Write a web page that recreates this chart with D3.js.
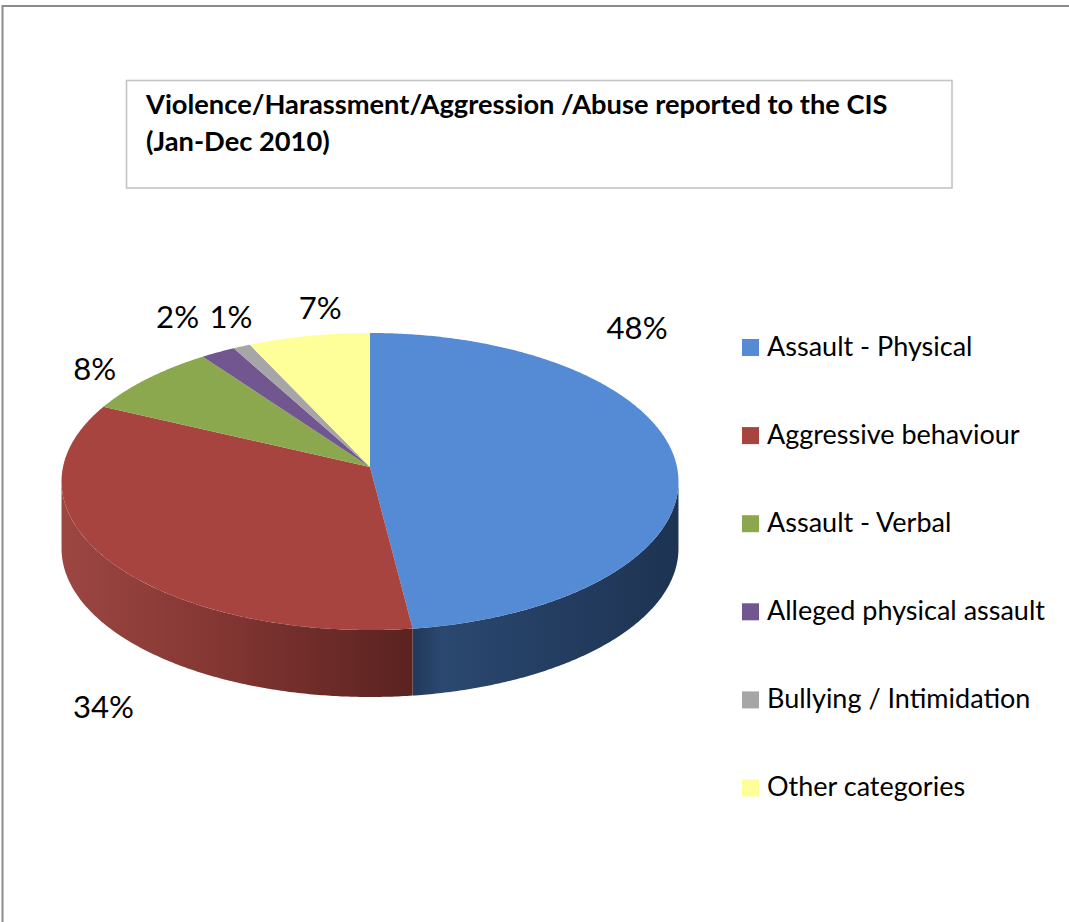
<!DOCTYPE html>
<html>
<head>
<meta charset="utf-8">
<script src="https://cdn.jsdelivr.net/npm/d3@7"></script>
<style>
  html, body { margin: 0; padding: 0; background: #ffffff; }
  svg { display: block; }
  text { font-family: Lato, "Open Sans", "Liberation Sans", sans-serif; fill: #000; }
</style>
</head>
<body>
<svg id="chart" width="1069" height="922"></svg>
<script>
// ---------- data ----------
const categories = ["Assault - Physical", "Aggressive behaviour", "Assault - Verbal",
                    "Alleged physical assault", "Bullying / Intimidation", "Other categories"];
const values = [48, 34, 8, 2, 1, 7];
const percentLabels = ["48%", "34%", "8%", "2%", "1%", "7%"];
const titleLines = ["Violence/Harassment/Aggression /Abuse reported to the CIS", "(Jan-Dec 2010)"];

// ---------- styles ----------
const topColors = ["#548bd4", "#a8443f", "#8ba84f", "#71568f", "#a6a6a6", "#ffff99"];

const svg = d3.select("#chart");
const W = 1069, H = 922;

// outer frame
svg.append("rect").attr("x", 2.5).attr("y", 6).attr("width", W + 20).attr("height", H + 20)
  .attr("fill", "#fff").attr("stroke", "#8c8c8c").attr("stroke-width", 2);

// title box
svg.append("rect").attr("x", 126.5).attr("y", 80.5).attr("width", 825.5).attr("height", 107.5)
  .attr("fill", "#fff").attr("stroke", "#c4c4c4").attr("stroke-width", 1.6);

function fitSize(sel, target) {
  sel.attr("font-size", 100);
  const w = sel.node().getComputedTextLength();
  return 100 * target / w;
}

const t1 = svg.append("text").attr("x", 146).attr("y", 114).attr("font-weight", "bold").text(titleLines[0]);
const titleSize = fitSize(t1, 742);
t1.attr("font-size", titleSize);
svg.append("text").attr("x", 146).attr("y", 150.5).attr("font-weight", "bold")
  .attr("font-size", titleSize).text(titleLines[1]);

// ---------- perspective pie ----------
const cx = 370, cy = 467;        // projected pie centre
const ax = 307, by = 147.1;      // horizontal / vertical radii
const k = -0.0976;               // perspective factor
const depth = 67;

function proj(theta, r = 1) {
  const u = r * Math.sin(theta), v = -r * Math.cos(theta);
  const d = 1 + k * v;
  return [cx + ax * u / d, cy + by * v / d];
}
function rim(a0, a1, r = 1, dy = 0) {
  const n = Math.max(2, Math.ceil(Math.abs(a1 - a0) / (Math.PI / 360)));
  const pts = [];
  for (let i = 0; i <= n; i++) {
    const p = proj(a0 + (a1 - a0) * i / n, r);
    pts.push([p[0], p[1] + dy]);
  }
  return pts;
}

const pie = d3.pie().sort(null).value(d => d)(values);
const line = d3.line();

const thR = Math.acos(k), thL = 2 * Math.PI - thR;   // silhouette angles

// gradients for sides
const defs = svg.append("defs");
const sideGrads = [
  { id: "g0", x1: 415, x2: 679, stops: [[0, "#223a5c"], [0.1, "#2b4870"], [0.5, "#243e62"], [1, "#1e3352"]] },
  { id: "g1", x1: 62, x2: 415, stops: [[0, "#9c4642"], [0.4, "#863834"], [1, "#5a2220"]] }
];
sideGrads.forEach(g => {
  const lg = defs.append("linearGradient").attr("id", g.id).attr("gradientUnits", "userSpaceOnUse")
    .attr("x1", g.x1).attr("x2", g.x2).attr("y1", 0).attr("y2", 0);
  g.stops.forEach(s => lg.append("stop").attr("offset", s[0]).attr("stop-color", s[1]));
});

// sides (front half only)
pie.forEach((s, i) => {
  const a0 = Math.max(s.startAngle, thR), a1 = Math.min(s.endAngle, thL);
  if (a1 <= a0) return;
  const top = rim(a0, a1), bot = rim(a1, a0, 1, depth);
  svg.append("path").attr("d", line(top.concat(bot)) + "Z")
    .attr("fill", i < 2 ? `url(#g${i})` : d3.color(topColors[i]).darker(1.2));
});

// tops
pie.forEach((s, i) => {
  const pts = [[cx, cy]].concat(rim(s.startAngle, s.endAngle));
  svg.append("path").attr("d", line(pts) + "Z").attr("fill", topColors[i]);
});

// ---------- data labels ----------
const labelNudge = [[-113, -117], [68, 135], [-1, 22], [-6, 2], [18, 9], [25, 12]];
const pctSize = (() => {
  const t = svg.append("text").text(percentLabels[0]);
  const s = fitSize(t, 61); t.remove(); return s;
})();
pie.forEach((s, i) => {
  const mid = (s.startAngle + s.endAngle) / 2;
  const p = proj(mid, 1.25);
  svg.append("text").attr("x", p[0] + labelNudge[i][0]).attr("y", p[1] + labelNudge[i][1])
    .attr("text-anchor", "middle").attr("font-size", pctSize).text(percentLabels[i]);
});

// ---------- legend ----------
const ly = d3.scalePoint().domain(categories).range([347.5, 788]);
const legSize = (() => {
  const t = svg.append("text").text(categories[3]);
  const s = fitSize(t, 278); t.remove(); return s;
})();
const leg = svg.append("g").selectAll("g").data(categories).join("g")
  .attr("transform", d => `translate(742,${ly(d)})`);
leg.append("rect").attr("x", 0).attr("y", -8.5).attr("width", 17).attr("height", 17)
  .attr("fill", (d, i) => topColors[i]);
leg.append("text").attr("x", 25).attr("y", 8).attr("font-size", legSize).text(d => d);
</script>
</body>
</html>
